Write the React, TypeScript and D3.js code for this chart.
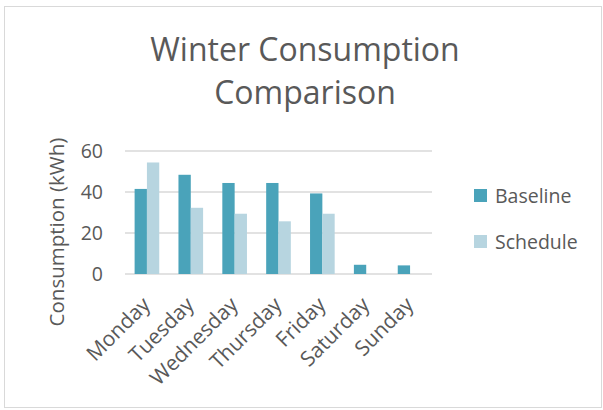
import React, { useEffect, useRef } from 'react';
import * as d3 from 'd3';

const days = ['Monday', 'Tuesday', 'Wednesday', 'Thursday', 'Friday', 'Saturday', 'Sunday'];
const seriesNames = ['Baseline', 'Schedule'];
const baseline = [41.5, 48.4, 44.4, 44.4, 39.3, 4.5, 4.2];
const schedule = [54.4, 32.3, 29.4, 25.7, 29.4, 0, 0];
const yTicks = [0, 20, 40, 60];

const colors: Record<string, string> = { Baseline: '#4aa3ba', Schedule: '#b7d5e0' };
const textColor = '#595959';
const font = '"Open Sans", Lato, sans-serif';

const App: React.FC = () => {
  const svgRef = useRef<SVGSVGElement | null>(null);

  useEffect(() => {
    drawChart();
  }, []);

  const drawChart = () => {
    const width = 603;
    const height = 410;
    const plot = { left: 125, right: 432, top: 151, bottom: 274 };

    const svg = d3.select(svgRef.current);
    svg.selectAll('*').remove();
    svg.attr('width', width).attr('height', height);

    // chart frame
    svg.append('rect').attr('x', 0).attr('y', 0).attr('width', width).attr('height', height).attr('fill', '#fff');
    svg
      .append('rect')
      .attr('x', 4.5)
      .attr('y', 6.5)
      .attr('width', 597)
      .attr('height', 401)
      .attr('fill', '#fff')
      .attr('stroke', '#d9d9d9')
      .attr('stroke-width', 1);

    const data = days.map((d, i) => ({ day: d, Baseline: baseline[i], Schedule: schedule[i] }));

    const x0 = d3.scaleBand().domain(days).range([plot.left, plot.right]).padding(0);
    const x1 = d3.scaleBand().domain(seriesNames).range([0, x0.bandwidth()]).paddingInner(0).paddingOuter(0.78);
    const y = d3.scaleLinear().domain([0, 60]).range([plot.bottom, plot.top]);

    // gridlines
    svg
      .append('g')
      .selectAll('line')
      .data(yTicks)
      .enter()
      .append('line')
      .attr('x1', plot.left)
      .attr('x2', plot.right)
      .attr('y1', (d) => y(d))
      .attr('y2', (d) => y(d))
      .attr('stroke', '#d9d9d9')
      .attr('stroke-width', 1.5);

    // y tick labels
    svg
      .append('g')
      .selectAll('text')
      .data(yTicks)
      .enter()
      .append('text')
      .attr('x', 103)
      .attr('y', (d) => y(d))
      .attr('dy', '0.36em')
      .attr('text-anchor', 'end')
      .attr('font-family', font)
      .attr('font-size', 19.5)
      .attr('fill', textColor)
      .text((d) => d);

    // bars
    const groups = svg
      .append('g')
      .selectAll('g')
      .data(data)
      .enter()
      .append('g')
      .attr('transform', (d) => `translate(${x0(d.day)},0)`);

    groups
      .selectAll('rect')
      .data((d) => seriesNames.map((s) => ({ key: s, value: (d as any)[s] as number })))
      .enter()
      .append('rect')
      .attr('x', (d) => x1(d.key)!)
      .attr('y', (d) => y(d.value))
      .attr('width', x1.bandwidth())
      .attr('height', (d) => y(0) - y(d.value))
      .attr('fill', (d) => colors[d.key]);

    // category labels
    svg
      .append('g')
      .selectAll('text')
      .data(days)
      .enter()
      .append('text')
      .attr('transform', (d) => `translate(${x0(d)! + x0.bandwidth() / 2 + 4.5},306) rotate(-45)`)
      .attr('text-anchor', 'end')
      .attr('font-family', font)
      .attr('font-size', 21)
      .attr('fill', textColor)
      .text((d) => d);

    // y axis title
    svg
      .append('text')
      .attr('transform', 'translate(64,232) rotate(-90)')
      .attr('text-anchor', 'middle')
      .attr('font-family', font)
      .attr('font-size', 20.5)
      .attr('fill', textColor)
      .text('Consumption (kWh)');

    // title
    const title = svg
      .append('text')
      .attr('text-anchor', 'middle')
      .attr('font-family', font)
      .attr('font-size', 32)
      .attr('fill', textColor);
    title.append('tspan').attr('x', 305).attr('y', 61).text('Winter Consumption');
    title.append('tspan').attr('x', 305).attr('y', 104).text('Comparison');

    // legend
    const legend = svg
      .append('g')
      .selectAll('g')
      .data(seriesNames)
      .enter()
      .append('g')
      .attr('transform', (d, i) => `translate(474,${189 + i * 46})`);
    legend
      .append('rect')
      .attr('width', 13)
      .attr('height', 13)
      .attr('fill', (d) => colors[d]);
    legend
      .append('text')
      .attr('x', 21)
      .attr('y', 13.5)
      .attr('font-family', font)
      .attr('font-size', 19.5)
      .attr('fill', textColor)
      .text((d) => d);
  };

  return (
    <div style={{ position: 'absolute', left: 0, top: 0 }}>
      <svg ref={svgRef} style={{ display: 'block' }}></svg>
    </div>
  );
};

export default App;
